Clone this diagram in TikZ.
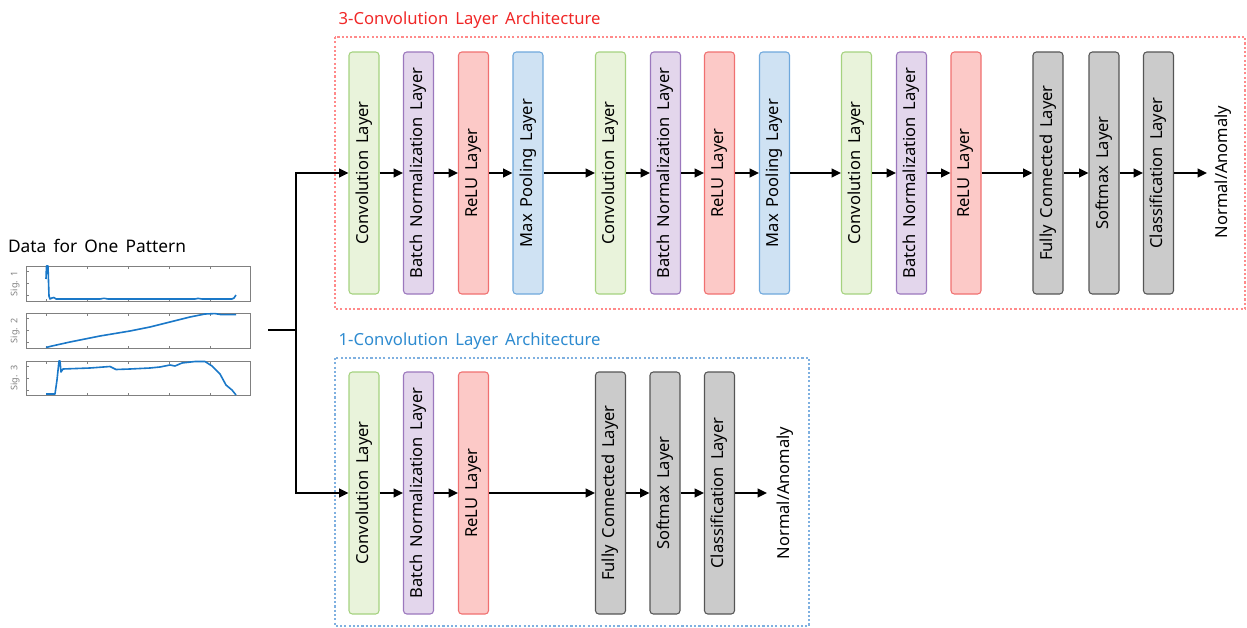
\documentclass[tikz,border=0pt]{standalone}
\usepackage{fontspec}
\setmainfont[WordSpace=1.6]{Noto Sans}
\usetikzlibrary{arrows.meta}

\definecolor{convfill}{HTML}{E9F3DB}
\definecolor{convline}{HTML}{A5D27F}
\definecolor{bnfill}{HTML}{E3D6EC}
\definecolor{bnline}{HTML}{9B77BD}
\definecolor{relufill}{HTML}{FCC9C7}
\definecolor{reluline}{HTML}{F07070}
\definecolor{poolfill}{HTML}{CFE2F3}
\definecolor{poolline}{HTML}{6FA8DC}
\definecolor{fcfill}{HTML}{CBCBCB}
\definecolor{fcline}{HTML}{555555}
\definecolor{redtitle}{HTML}{F02828}
\definecolor{redframe}{HTML}{FF8A8A}
\definecolor{bluetitle}{HTML}{2E8BD0}
\definecolor{blueframe}{HTML}{7FB0E0}
\definecolor{sigblue}{HTML}{1A78C8}
\definecolor{axisgray}{HTML}{808080}

\tikzset{
  layer/.style={rounded corners=2.5pt, line width=0.8pt, minimum width=181.5pt,
    minimum height=22.5pt, inner sep=0pt, rotate=90, font=\fontsize{12.4}{14}\selectfont},
  conv/.style={layer, fill=convfill, draw=convline},
  bn/.style={layer, fill=bnfill, draw=bnline},
  relu/.style={layer, fill=relufill, draw=reluline},
  pool/.style={layer, fill=poolfill, draw=poolline},
  fc/.style={layer, fill=fcfill, draw=fcline},
  arr/.style={line width=1.4pt, -{Triangle[length=7pt,width=6.5pt]}},
  wire/.style={line width=1.4pt},
  outlabel/.style={rotate=90, font=\fontsize{12.4}{14}\selectfont},
  archtitle/.style={anchor=west, font=\fontsize{12.5}{15}\selectfont},
  frame/.style={line width=0.9pt, dash pattern=on 1.6pt off 1.6pt},
  axisbox/.style={draw=axisgray, line width=0.6pt},
  sigline/.style={draw=sigblue, line width=1.2pt, line join=round},
  siglabel/.style={rotate=90, text=axisgray, font=\fontsize{6.8}{8}\selectfont, inner sep=0pt},
}

\begin{document}
\begin{tikzpicture}[x=0.75pt,y=-0.75pt]
\path[use as bounding box] (0,0) rectangle (1247,628);

% ---- input signals ----
\node[font=\fontsize{13}{15}\selectfont] (datatitle) at (97,246) {Data for One Pattern};

\foreach \top/\bot/\lab in {266/301/1, 313/348/2, 361/395/3}{
  \draw[axisbox] (26,\top) rectangle (250,\bot);
  \foreach \tx in {46,87,128,169,210}{
    \draw[axisgray, line width=0.5pt] (\tx,\top) -- (\tx,\top+2.5);
    \draw[axisgray, line width=0.5pt] (\tx,\bot) -- (\tx,\bot-2.5);
  }
  \foreach \f in {0.15,0.5,0.85}{
    \draw[axisgray, line width=0.5pt] (26,{\top+\f*(\bot-\top)}) -- (28.5,{\top+\f*(\bot-\top)});
  }
  \node[siglabel] at (15,{(\top+\bot)/2}) {Sig. \lab};
}

\draw[sigline] (46,279) -- (46.5,266) -- (48,266) -- (49,296) -- (50,299) -- (52,298)
  -- (54,297.5) -- (56,299) -- (100,299) -- (104,298.3) -- (108,299) -- (195,299)
  -- (198,298.4) -- (202,299) -- (232,299) -- (234,298) -- (236,295);

\draw[sigline] (46,347.5) -- (52,346) -- (70,342) -- (100,336) -- (130,331) -- (150,327)
  -- (170,322) -- (190,317) -- (205,314) -- (215,313.6) -- (221,314.6) -- (236,314.6);

\draw[sigline] (46,394) -- (55,394) -- (57,380) -- (59,361) -- (60,361) -- (61,372)
  -- (63,369) -- (90,368) -- (110,366.5) -- (116,369.5) -- (130,369) -- (150,368)
  -- (160,367) -- (170,365) -- (175,366) -- (182,363) -- (195,361.5) -- (205,361.5)
  -- (212,366) -- (220,374) -- (226,385) -- (232,390) -- (236,395);

\coordinate (src) at (268,330);
\coordinate (split) at (296,330);

% ---- 3-convolution architecture ----
\draw[frame, redframe] (335,37) rectangle (1245,309);
\node[archtitle, text=redtitle] (toptitle) at (334,20) {3-Convolution Layer Architecture};

\node[conv] (t1) at (364,173) {Convolution Layer};
\node[bn]   (t2) at (418.5,173) {Batch Normalization Layer};
\node[relu] (t3) at (473.5,173) {ReLU Layer};
\node[pool] (t4) at (528,173) {Max Pooling Layer};
\node[conv] (t5) at (610.5,173) {Convolution Layer};
\node[bn]   (t6) at (665.5,173) {Batch Normalization Layer};
\node[relu] (t7) at (719.5,173) {ReLU Layer};
\node[pool] (t8) at (774.5,173) {Max Pooling Layer};
\node[conv] (t9) at (856.5,173) {Convolution Layer};
\node[bn]   (t10) at (911.5,173) {Batch Normalization Layer};
\node[relu] (t11) at (966,173) {ReLU Layer};
\node[fc]   (t12) at (1048,173) {Fully Connected Layer};
\node[fc]   (t13) at (1104,173) {Softmax Layer};
\node[fc]   (t14) at (1158.5,173) {Classification Layer};
\coordinate (tout) at (1207,173);
\node[outlabel] (tres) at (1223,172) {Normal/Anomaly};

\foreach \a/\b in {t1/t2,t2/t3,t3/t4,t4/t5,t5/t6,t6/t7,t7/t8,t8/t9,t9/t10,t10/t11,t11/t12,t12/t13,t13/t14}
  \draw[arr] (\a) -- (\b);
\draw[arr] (t14) -- (tout);

% ---- 1-convolution architecture ----
\draw[frame, blueframe] (335,358) rectangle (809,626);
\node[archtitle, text=bluetitle] (bottitle) at (334,341) {1-Convolution Layer Architecture};

\node[conv] (b1) at (364,493) {Convolution Layer};
\node[bn]   (b2) at (418.5,493) {Batch Normalization Layer};
\node[relu] (b3) at (473.5,493) {ReLU Layer};
\node[fc]   (b4) at (610.5,493) {Fully Connected Layer};
\node[fc]   (b5) at (665,493) {Softmax Layer};
\node[fc]   (b6) at (719.5,493) {Classification Layer};
\coordinate (bout) at (767,493);
\node[outlabel] (bres) at (785,493) {Normal/Anomaly};

\foreach \a/\b in {b1/b2,b2/b3,b3/b4,b4/b5,b5/b6}
  \draw[arr] (\a) -- (\b);
\draw[arr] (b6) -- (bout);

% ---- input split ----
\draw[wire] (src) -- (split);
\draw[arr] (split) |- (t1);
\draw[arr] (split) |- (b1);
\end{tikzpicture}
\end{document}
